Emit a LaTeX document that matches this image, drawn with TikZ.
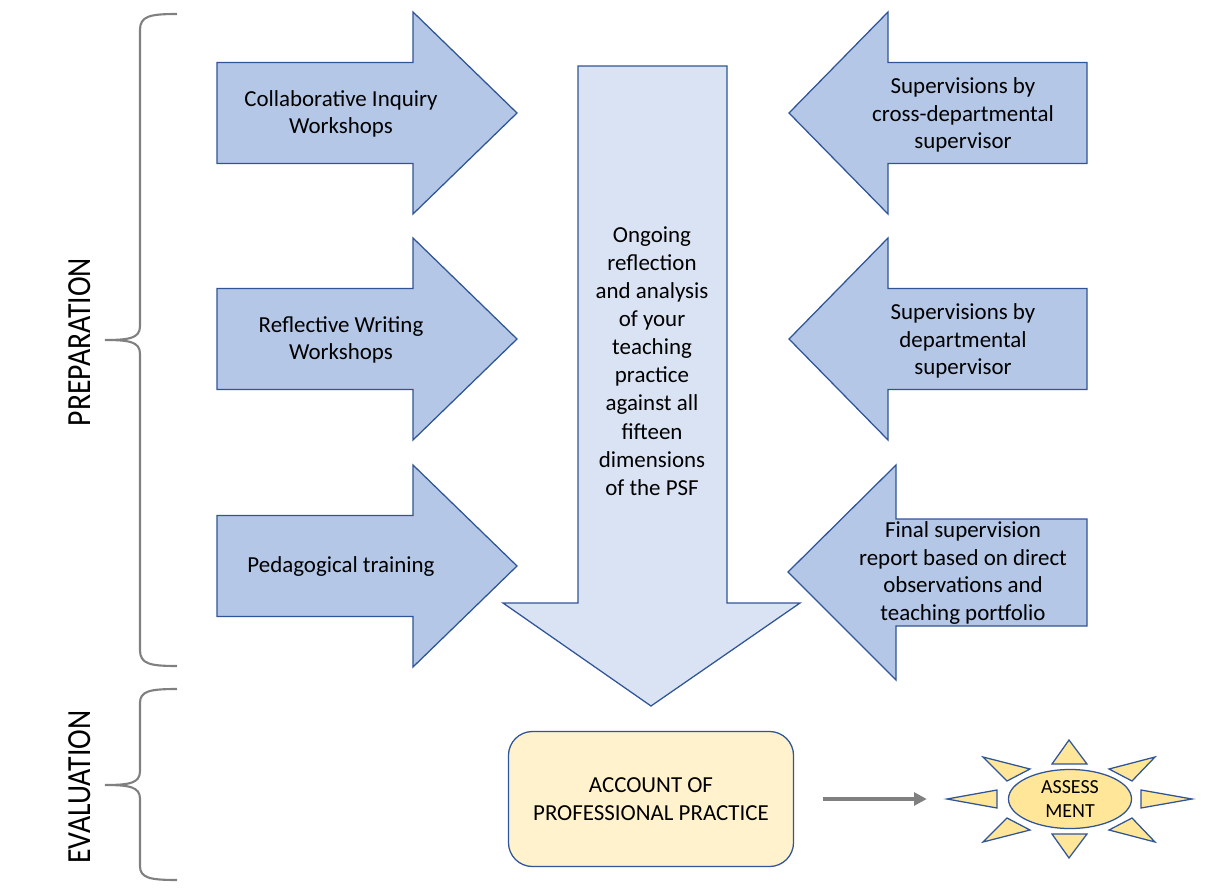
\documentclass[tikz,border=0pt]{standalone}
\usepackage{fontspec}
\setmainfont{Carlito}
\newfontfamily\narrowfont[FakeStretch=0.88]{Carlito}
\usetikzlibrary{arrows.meta, shapes.geometric}

\definecolor{arrowfill}{HTML}{B4C7E7}
\definecolor{arrowline}{HTML}{2F5597}
\definecolor{mainfill}{HTML}{DAE3F3}
\definecolor{boxfill}{HTML}{FFF2CC}
\definecolor{sunfill}{HTML}{FFE699}
\definecolor{bracegray}{HTML}{808080}

\tikzset{
	blockarrow/.style={draw=arrowline, fill=arrowfill, line width=0.9pt, line join=miter},
	mainarrow/.style={blockarrow, fill=mainfill},
	arrowtext/.style={align=center, font=\fontsize{16.3}{19.5}\selectfont, inner sep=0pt},
	accbox/.style={draw=arrowline, fill=boxfill, line width=0.9pt, rounded corners=0.6cm, minimum width=7.125cm, minimum height=3.375cm, align=center, font=\fontsize{16.3}{20}\selectfont},
	sunray/.style={draw=arrowline, fill=sunfill, line width=0.9pt, line join=miter},
	sunbody/.style={ellipse, draw=arrowline, fill=sunfill, line width=0.9pt, inner sep=0pt, minimum width=3.075cm, minimum height=1.475cm, align=center, font=\fontsize{14.2}{17}\selectfont},
	bracepath/.style={draw=bracegray, line width=1.5pt},
	sidetext/.style={font=\narrowfont\fontsize{24}{24}\selectfont, rotate=90},
	flowarrow/.style={draw=bracegray, line width=2.4pt, -{Triangle[length=9pt, width=9pt]}}
}

\begin{document}
\begin{tikzpicture}[x=0.025cm, y=-0.025cm]
	\useasboundingbox (0,0) rectangle (1212,888);
	
	% arrows from the left
	\foreach \yc in {113,339,566}
		\draw[blockarrow] (217,\yc-50.5) -- (413,\yc-50.5) -- (413,\yc-101) -- (517,\yc) -- (413,\yc+101) -- (413,\yc+50.5) -- (217,\yc+50.5) -- cycle;
	
	% arrows from the right
	\foreach \yc in {113,339}
		\draw[blockarrow] (1087,\yc-50.5) -- (888,\yc-50.5) -- (888,\yc-101) -- (789,\yc) -- (888,\yc+101) -- (888,\yc+50.5) -- (1087,\yc+50.5) -- cycle;
	\draw[blockarrow] (1087,519) -- (896,519) -- (896,465) -- (788,572) -- (896,680) -- (896,626) -- (1087,626) -- cycle;
	
	% central arrow
	\draw[mainarrow] (578,66) -- (727,66) -- (727,603) -- (800,603) -- (651,706) -- (503,603) -- (578,603) -- cycle;
	
	\node[arrowtext] (cia) at (341,114) {Collaborative Inquiry\\Workshops};
	\node[arrowtext] (rww) at (341,340) {Reflective Writing\\Workshops};
	\node[arrowtext] (pedt) at (341,567) {Pedagogical training};
	\node[arrowtext] (scd) at (963,115) {Supervisions by\\cross-departmental\\supervisor};
	\node[arrowtext] (sd) at (963,341) {Supervisions by\\departmental\\supervisor};
	\node[arrowtext] (fsr) at (963,573) {Final supervision\\report based on direct\\observations and\\teaching portfolio};
	\node[arrowtext, font=\fontsize{16.3}{20}\selectfont] (ongoing) at (652,361) {Ongoing\\reflection\\and analysis\\of your\\teaching\\practice\\against all\\fifteen\\dimensions\\of the PSF};
	
	% evaluation
	\node[accbox] (acc) at (651,799) {ACCOUNT OF\\PROFESSIONAL PRACTICE};
	\node[sunbody] (sun) at (1070,799) {ASSESS\\MENT};
	\draw[sunray] (1069,740) -- (1052,764) -- (1087,764) -- cycle;
	\draw[sunray] (1069,858) -- (1052,834) -- (1087,834) -- cycle;
	\draw[sunray] (947,799) -- (997,790) -- (997,808) -- cycle;
	\draw[sunray] (1192,799) -- (1141,790) -- (1141,808) -- cycle;
	\draw[sunray] (983,757) -- (1030,769) -- (1007,781) -- cycle;
	\draw[sunray] (1155,757) -- (1109,769) -- (1132,781) -- cycle;
	\draw[sunray] (983,842) -- (1030,830) -- (1007,818) -- cycle;
	\draw[sunray] (1155,842) -- (1109,830) -- (1132,818) -- cycle;
	\draw[flowarrow, shorten <=0.725cm, shorten >=2.025cm] (acc.east) -- (sun.west);
	
	% braces
	\draw[bracepath] (177,14) .. controls (150,14) and (140,16) .. (140,30) -- (140,326) .. controls (140,338) and (130,340) .. (105,340) .. controls (130,340) and (140,342) .. (140,354) -- (140,650) .. controls (140,664) and (150,666) .. (177,666);
	\draw[bracepath] (177,689) .. controls (150,689) and (140,691) .. (140,703) -- (140,771) .. controls (140,783) and (130,785) .. (105,785) .. controls (130,785) and (140,787) .. (140,799) -- (140,866) .. controls (140,878) and (150,880) .. (177,880);
	\node[sidetext] (prep) at (80,342) {PREPARATION};
	\node[sidetext] (eval) at (80,787) {EVALUATION};
\end{tikzpicture}
\end{document}
